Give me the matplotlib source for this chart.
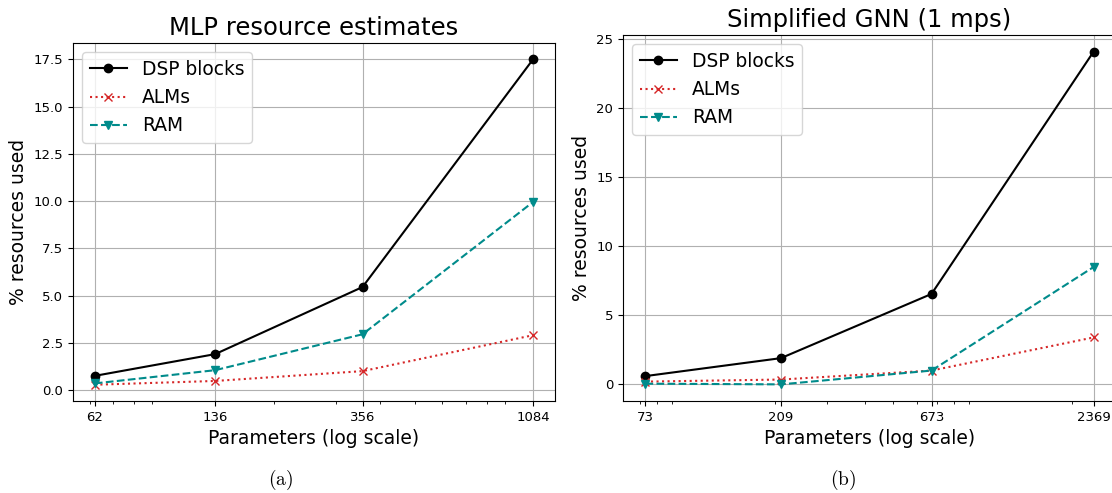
import matplotlib
matplotlib.use("Agg")
import matplotlib.pyplot as plt
from matplotlib.ticker import FixedLocator, FixedFormatter, NullFormatter

plt.rcParams['font.family'] = ['DejaVu Sans']
plt.rcParams['mathtext.fontset'] = 'cm'

# Data (a) MLP
mlp_params = [62, 136, 356, 1084]
mlp_dsp = [0.75, 1.9, 5.45, 17.5]
mlp_alm = [0.28, 0.48, 1.0, 2.9]
mlp_ram = [0.35, 1.05, 2.95, 9.95]

# Data (b) Simplified GNN
gnn_params = [73, 209, 673, 2369]
gnn_dsp = [0.6, 1.9, 6.55, 24.1]
gnn_alm = [0.2, 0.35, 1.0, 3.4]
gnn_ram = [0.05, 0.0, 1.0, 8.5]

titles = ["MLP resource estimates", "Simplified GNN (1 mps)"]
captions = ["(a)", "(b)"]

fig = plt.figure(figsize=(11.12, 4.93), dpi=100)
ax1 = fig.add_axes([0.0656, 0.1866, 0.4335, 0.7262])
ax2 = fig.add_axes([0.5603, 0.1866, 0.4433, 0.7424])

def draw(ax, params, dsp, alm, ram, title):
    ax.plot(params, dsp, color='black', linestyle='-', marker='o', markersize=6, linewidth=1.5, label='DSP blocks')
    ax.plot(params, alm, color='#d62728', linestyle=':', marker='x', markersize=6, linewidth=1.5, label='ALMs')
    ax.plot(params, ram, color='#008b8b', linestyle='--', marker='v', markersize=6, linewidth=1.5, label='RAM')
    ax.set_xscale('log')
    ax.xaxis.set_major_locator(FixedLocator(params))
    ax.xaxis.set_major_formatter(FixedFormatter([str(p) for p in params]))
    ax.xaxis.set_minor_formatter(NullFormatter())
    ax.grid(True, which='major', color='#b0b0b0', linewidth=0.8)
    ax.set_axisbelow(True)
    ax.set_title(title, fontsize=17.5)
    ax.set_xlabel('Parameters (log scale)', fontsize=13.5)
    ax.set_ylabel('% resources used', fontsize=13.5)
    ax.tick_params(axis='both', labelsize=9.5)
    ax.legend(loc='upper left', fontsize=13.4)

draw(ax1, mlp_params, mlp_dsp, mlp_alm, mlp_ram, titles[0])
draw(ax2, gnn_params, gnn_dsp, gnn_alm, gnn_ram, titles[1])
ax2.set_yticks([0, 5, 10, 15, 20, 25])

fig.text(281/1112, 1 - 480/493, r'$\mathrm{' + captions[0] + '}$', fontsize=14, ha='center', va='center')
fig.text(843/1112, 1 - 480/493, r'$\mathrm{' + captions[1] + '}$', fontsize=14, ha='center', va='center')

fig.savefig('out.png', dpi=100)
